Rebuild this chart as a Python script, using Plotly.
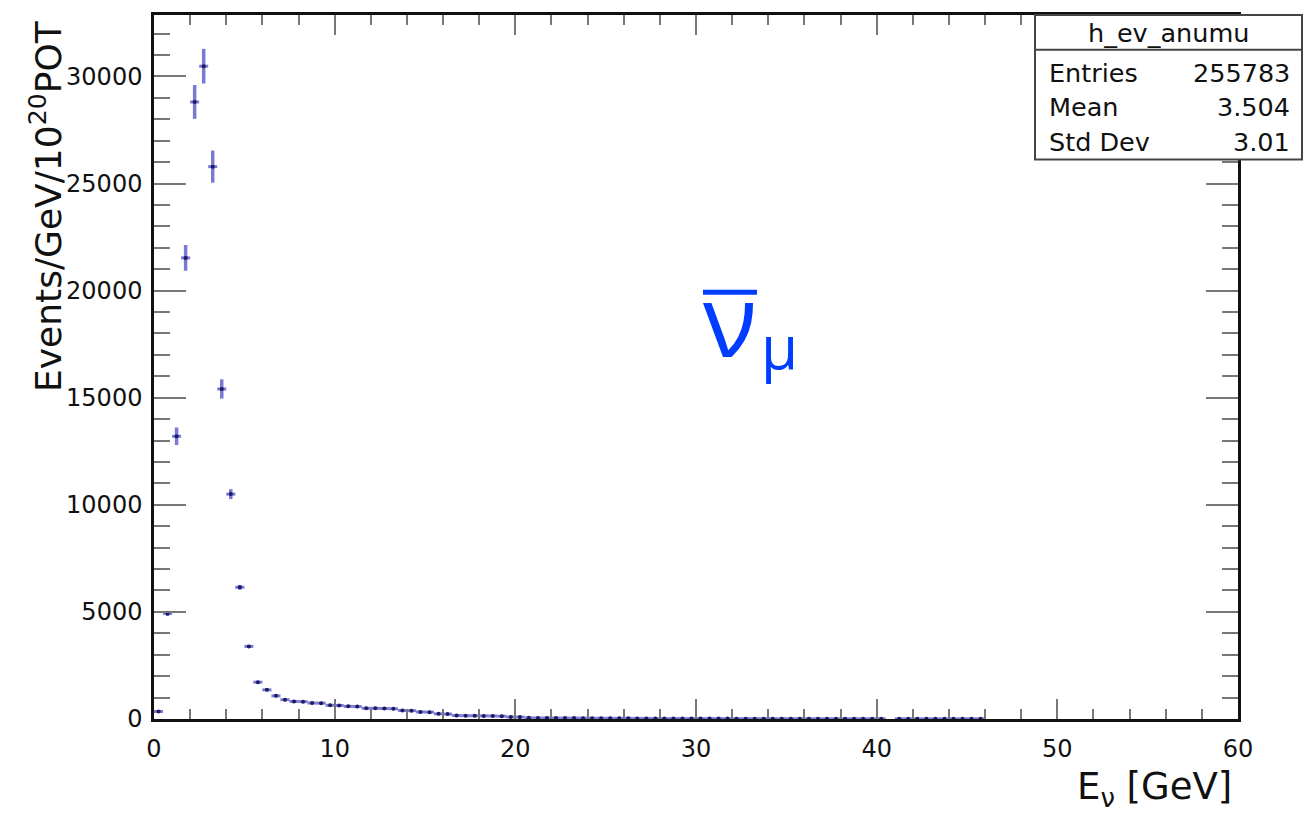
import plotly.graph_objects as go

# Bin centres (0.5 GeV bins) and contents
bin_centers = [0.25 + 0.5 * i for i in range(92)]
counts = [
    350, 4930, 13200, 21530, 28810, 30480, 25790, 15410, 10500, 6150,
    3390, 1720, 1360, 1080, 900, 820, 810, 745, 740, 640,
    630, 590, 580, 500, 500, 490, 480, 400, 390, 330,
    320, 240, 230, 160, 155, 150, 145, 140, 130, 95,
    90, 55, 50, 48, 46, 44, 42, 40, 38, 36,
    34, 32, 30, 28, 26, 22, 21, 21, 20, 20,
    19, 19, 18, 18, 17, 17, 16, 16, 15, 15,
    15, 14, 14, 13, 13, 12, 12, 12, 12, 12,
    11, None, 10, 9, 9, 9, 8, 8, 8, 8,
    8, 7,
]
errors = [
    60, 120, 410, 600, 790, 810, 750, 450, 230, 110,
    60, 40, 30, 26, 22, 20, 20, 18, 18, 16,
    16, 15, 15, 14, 14, 14, 14, 12, 12, 11,
    11, 10, 10, 8, 8, 8, 8, 8, 8, 7,
    7, 5, 5, 5, 5, 5, 5, 5, 5, 5,
    5, 5, 4, 4, 4, 4, 4, 4, 4, 4,
    4, 4, 4, 4, 4, 4, 4, 4, 3, 3,
    3, 3, 3, 3, 3, 3, 3, 3, 3, 3,
    3, None, 3, 3, 3, 3, 3, 3, 3, 3,
    3, 3,
]
half_width = [0.25] * len(bin_centers)

stats_title = "h_ev_anumu"
stats_labels = ["Entries", "Mean", "Std Dev"]
stats_values = ["255783", "3.504", "3.01"]

x_ticks = [0, 10, 20, 30, 40, 50, 60]
y_ticks = [0, 5000, 10000, 15000, 20000, 25000, 30000]

FONT = "DejaVu Sans"
BLUE = "rgb(0,61,255)"

fig = go.Figure()
fig.add_trace(go.Scatter(
    x=bin_centers, y=counts, mode="markers",
    marker=dict(size=4, color="#1c1c64"),
    error_x=dict(type="data", array=half_width, width=0,
                 color="rgba(50,50,190,0.65)", thickness=3),
    error_y=dict(type="data", array=errors, width=0,
                 color="rgba(50,50,190,0.65)", thickness=3.5),
    showlegend=False, hoverinfo="x+y",
))

# page has an 8px body margin: work in page pixels, convert to figure pixels
OFF = 8
W, H = 1316 - OFF, 816 - OFF
L, R, T, B = 154 - OFF, 1238 - OFF, 12 - OFF, 719 - OFF
pw, ph = R - L, B - T


def px(xp):
    return (xp - OFF - L) / pw


def py(yp):
    return (B - (yp - OFF)) / ph


axis_common = dict(
    showgrid=False, zeroline=False, showline=True, linecolor="#111",
    linewidth=2.5, mirror="ticks", ticks="inside", tickcolor="#777",
    tickwidth=2, tickfont=dict(family=FONT, size=24, color="#111"),
    tickformat="d",
)

fig.update_layout(
    width=W, height=H,
    margin=dict(l=L, r=W - R, t=T, b=H - B),
    paper_bgcolor="white", plot_bgcolor="white",
    xaxis=dict(range=[0, 60], tickvals=x_ticks, ticklen=20,
               minor=dict(dtick=2, ticklen=10, tickcolor="#777", tickwidth=2, ticks="inside"),
               ticklabelstandoff=6, **axis_common),
    yaxis=dict(range=[0, 32870], tickvals=y_ticks, ticklen=32,
               minor=dict(dtick=1000, ticklen=16, tickcolor="#777", tickwidth=2, ticks="inside"),
               ticklabelstandoff=4, **axis_common),
)

annotations = [
    dict(text="Events/GeV/10<sup>20</sup>POT", xref="paper", yref="paper",
         x=px(46), y=py(15), xanchor="center", yanchor="top", textangle=-90,
         showarrow=False, font=dict(family=FONT, size=36, color="#111")),
    dict(text="E<sub>ν</sub> [GeV]", xref="paper", yref="paper",
         x=px(1234), y=py(789), xanchor="right", yanchor="middle",
         showarrow=False, font=dict(family=FONT, size=37, color="#111")),
    dict(text="ν", xref="paper", yref="paper", x=px(730), y=py(316),
         xanchor="center", yanchor="middle", showarrow=False,
         font=dict(family="Open Sans", size=100, color=BLUE)),
    dict(text="μ", xref="paper", yref="paper", x=px(779), y=py(344),
         xanchor="center", yanchor="middle", showarrow=False,
         font=dict(family="Open Sans", size=60, color=BLUE)),
    dict(text=stats_title, xref="paper", yref="paper", x=px(1168), y=py(30),
         xanchor="center", yanchor="middle", showarrow=False,
         font=dict(family=FONT, size=25.5, color="#111")),
]
row_y = [70, 104, 140]
for lab, val, yy in zip(stats_labels, stats_values, row_y):
    annotations.append(dict(text=lab, xref="paper", yref="paper", x=px(1047), y=py(yy),
                            xanchor="left", yanchor="middle", showarrow=False,
                            font=dict(family=FONT, size=25.5, color="#111")))
    annotations.append(dict(text=val, xref="paper", yref="paper", x=px(1292), y=py(yy),
                            xanchor="right", yanchor="middle", showarrow=False,
                            font=dict(family=FONT, size=25.5, color="#111")))
fig.update_layout(annotations=annotations)

shapes = [
    dict(type="rect", xref="paper", yref="paper", x0=px(1035), x1=px(1302),
         y0=py(157), y1=py(12), line=dict(color="#444", width=2), fillcolor="white",
         layer="above"),
    dict(type="line", xref="paper", yref="paper", x0=px(1035), x1=px(1302),
         y0=py(47), y1=py(47), line=dict(color="#444", width=2)),
    dict(type="line", xref="paper", yref="paper", x0=px(703), x1=px(757),
         y0=py(290.5), y1=py(290.5), line=dict(color=BLUE, width=5)),
]
fig.update_layout(shapes=shapes)

fig.write_html("out.html")
